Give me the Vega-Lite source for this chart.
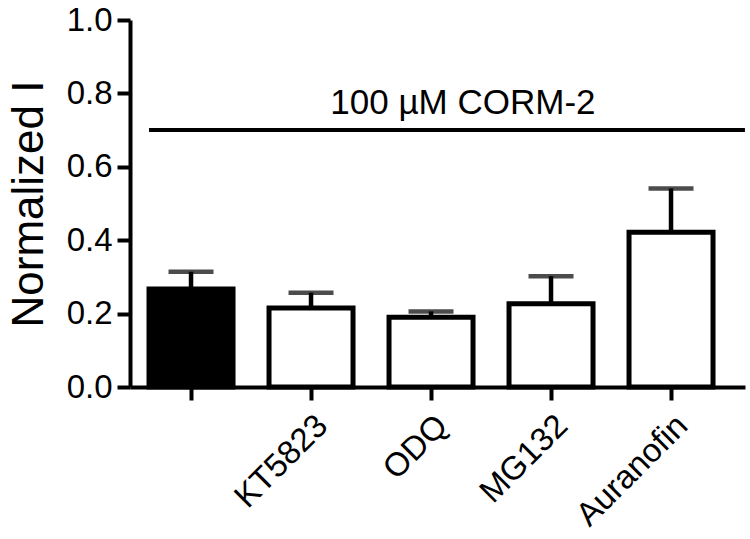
{
  "$schema": "https://vega.github.io/schema/vega-lite/v6.json",
  "autosize": "none",
  "width": 615,
  "height": 367,
  "padding": {"left": 130, "top": 20, "right": 5, "bottom": 152},
  "background": "white",
  "config": {
    "view": {"stroke": null},
    "font": "Liberation Sans"
  },
  "data": {
    "values": [
      {"treatment": "CORM-2", "mean": 0.267, "upper": 0.314},
      {"treatment": "KT5823", "mean": 0.215, "upper": 0.257},
      {"treatment": "ODQ", "mean": 0.19, "upper": 0.206},
      {"treatment": "MG132", "mean": 0.227, "upper": 0.302},
      {"treatment": "Auranofin", "mean": 0.422, "upper": 0.541}
    ]
  },
  "encoding": {
    "x": {
      "field": "treatment",
      "type": "nominal",
      "sort": null,
      "scale": {"paddingInner": 0.3, "paddingOuter": 0.2125, "align": 0.373},
      "axis": {
        "title": null,
        "labelExpr": "datum.value == 'CORM-2' ? '' : datum.value",
        "labelAngle": -45,
        "labelAlign": "right",
        "labelBaseline": "top",
        "labelFontSize": 33,
        "labelColor": "black",
        "labelPadding": 9,
        "domainColor": "black",
        "domainWidth": 4,
        "tickColor": "black",
        "tickWidth": 4,
        "tickSize": 13,
        "labelFont": "Liberation Sans"
      }
    }
  },
  "layer": [
    {
      "mark": {"type": "bar", "stroke": "black", "strokeWidth": 5},
      "encoding": {
        "y": {
          "field": "mean",
          "type": "quantitative",
          "scale": {"domain": [0, 1], "nice": false},
          "axis": {
            "title": "Normalized I",
            "titleFontSize": 44,
            "titleFontWeight": "normal",
            "titleColor": "black",
            "titlePadding": 15,
            "titleFont": "Liberation Sans",
            "values": [0, 0.2, 0.4, 0.6, 0.8, 1.0],
            "format": ".1f",
            "labelFontSize": 33,
            "labelColor": "black",
            "labelPadding": 5,
            "labelFont": "Liberation Sans",
            "grid": false,
            "domainColor": "black",
            "domainWidth": 4,
            "tickColor": "black",
            "tickWidth": 4,
            "tickSize": 13
          }
        },
        "fill": {
          "condition": {"test": "datum.treatment === 'CORM-2'", "value": "black"},
          "value": "white"
        }
      }
    },
    {
      "mark": {"type": "rule", "color": "black", "strokeWidth": 4.5},
      "encoding": {
        "y": {"field": "mean", "type": "quantitative"},
        "y2": {"field": "upper"}
      }
    },
    {
      "mark": {"type": "tick", "color": "black", "thickness": 4.5, "size": 45, "orient": "horizontal"},
      "encoding": {
        "y": {"field": "upper", "type": "quantitative"}
      }
    },
    {
      "data": {"values": [{"level": 0.7, "from": "CORM-2", "to": "Auranofin"}]},
      "mark": {"type": "rule", "color": "black", "strokeWidth": 4},
      "encoding": {
        "x": {"field": "from", "type": "nominal", "bandPosition": 0},
        "x2": {"field": "to", "bandPosition": 1.38},
        "y": {"field": "level", "type": "quantitative"}
      }
    },
    {
      "data": {"values": [{"label": "100 µM CORM-2", "level": 0.745, "at": "ODQ"}]},
      "mark": {"type": "text", "fontSize": 35, "color": "black", "align": "center", "baseline": "alphabetic", "font": "Liberation Sans"},
      "encoding": {
        "x": {"field": "at", "type": "nominal", "bandPosition": 0.88},
        "y": {"field": "level", "type": "quantitative"},
        "text": {"field": "label"}
      }
    }
  ]
}
